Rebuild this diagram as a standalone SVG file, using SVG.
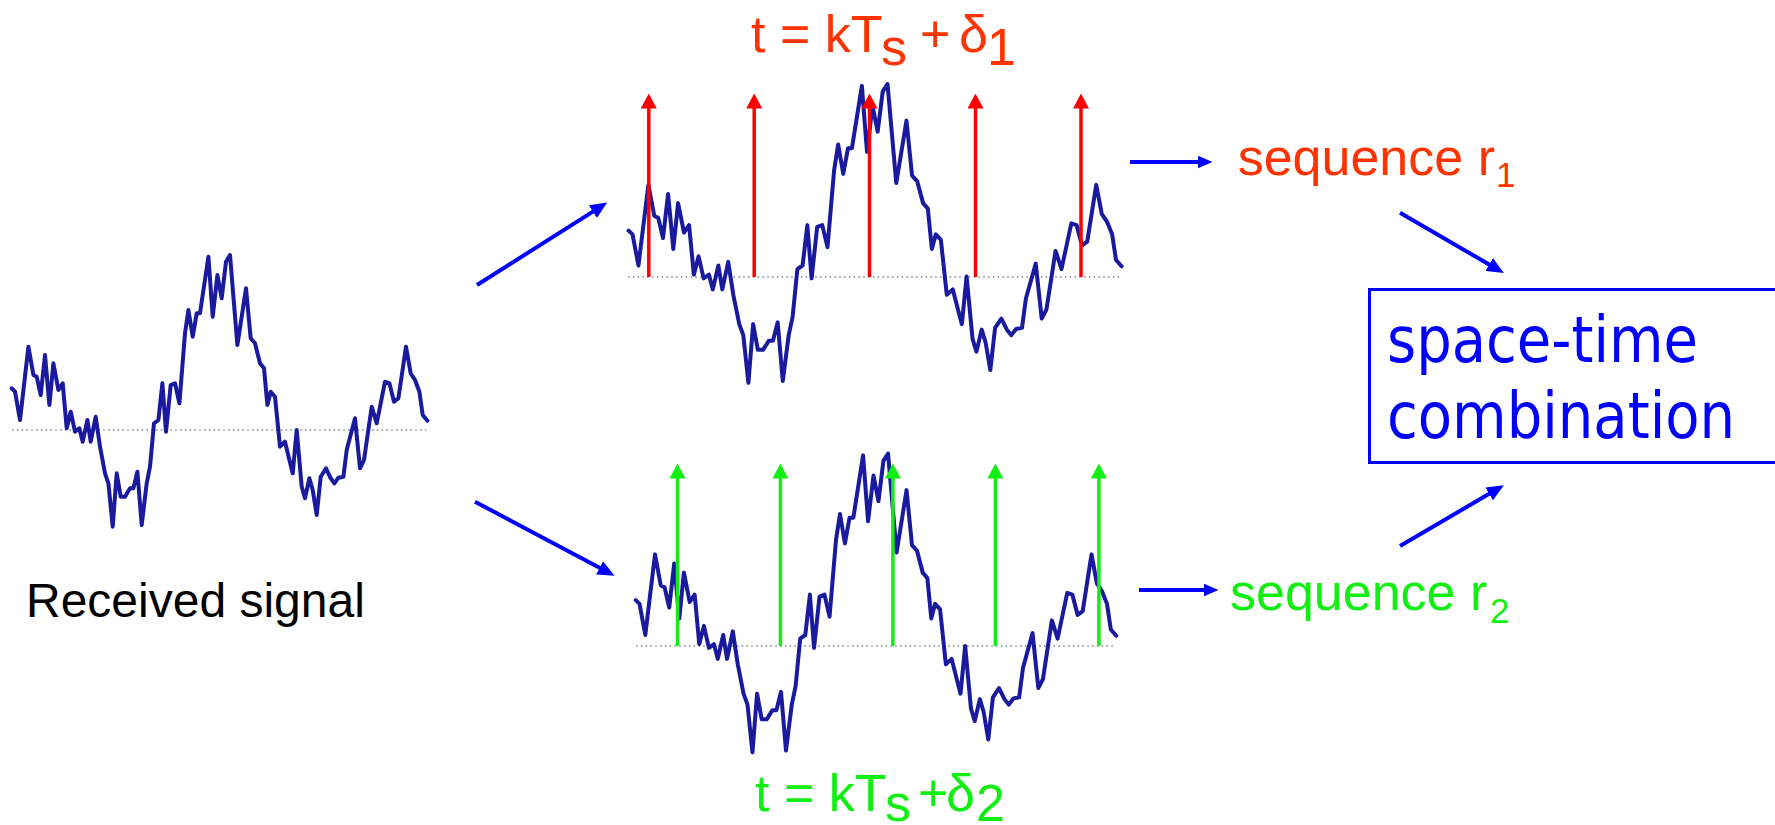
<svg xmlns="http://www.w3.org/2000/svg" xmlns:xlink="http://www.w3.org/1999/xlink" width="1775" height="825" viewBox="0 0 1775 825">
<style>
.wave{fill:none;stroke:#1a1a9e;stroke-width:4;stroke-linejoin:round;stroke-linecap:round}
.base{stroke:#8a8a9a;stroke-width:1.6;stroke-dasharray:1.6 3.2;fill:none}
.red{stroke:#ff0000;stroke-width:3.5;fill:none}
.grn{stroke:#11ee11;stroke-width:3.5;fill:none}
.blu{stroke:#0000ff;stroke-width:4;fill:none}
.lbl{font-family:"Liberation Sans",Arial,sans-serif}
.box{font-family:"DejaVu Sans",Verdana,sans-serif;font-size:64px;fill:#0000ff}
</style>
<defs>
<path id="sig" class="wave" vector-effect="non-scaling-stroke" d="M0,-41.7 L3.3,-38.3 L8.3,-10 L16.7,-83.3 L21.7,-55 L25,-53.3 L29,-35 L33.3,-75 L37.7,-25 L41.7,-66.7 L46.7,-40 L51,-46.7 L55,-1.7 L59,-18.3 L63.3,1.7 L67.7,-1.7 L71,11.7 L75.7,-10 L79,11.7 L84,-13.3 L88.3,16.7 L93.3,43.3 L96.7,53.3 L101,96.7 L105,43.3 L109,66.7 L113.3,66.7 L118.3,58.3 L121.7,58.3 L125.7,41.7 L130,95 L135,53.3 L138.3,36.7 L142.3,-6.7 L146.7,-10 L150.7,-46.7 L154.3,1.7 L159,-45 L163.3,-46.7 L167.7,-26.7 L173.3,-96.7 L176.7,-120 L181,-93.3 L185,-116.7 L188.3,-116.7 L196.7,-173.3 L201,-113.3 L205.7,-155 L210,-131.7 L214.3,-168.3 L218.3,-175 L225.7,-85 L234.3,-141.7 L239,-91.7 L243.3,-86.7 L248.3,-66.7 L252.3,-61.7 L255.7,-25 L259,-38.3 L263.3,-33.3 L268.3,16.7 L273.3,11.7 L277.7,30 L281,43.3 L285,0 L290,56.7 L293.3,68.3 L297.7,48.3 L301,60 L305,85 L309,46.7 L314.3,38.3 L319,48.3 L322.7,53.3 L326.7,47.7 L331.7,46.7 L335,20 L343.3,-11.7 L348.3,38.3 L352.3,30 L360,-23.3 L365,-6.7 L373.3,-48.3 L377.7,-46.7 L382.3,-28.3 L386.7,-31.7 L394.3,-83.3 L399,-56.7 L403.3,-50 L407.7,-38.3 L411,-15 L415.7,-9.3"/>
<marker id="hr" markerUnits="userSpaceOnUse" viewBox="0 0 15 16" markerWidth="15" markerHeight="16" refX="0.5" refY="8" orient="auto"><path d="M0,0 L15,8 L0,16 z" fill="#ff0000"/></marker>
<marker id="hg" markerUnits="userSpaceOnUse" viewBox="0 0 15 16" markerWidth="15" markerHeight="16" refX="0.5" refY="8" orient="auto"><path d="M0,0 L15,8 L0,16 z" fill="#11ee11"/></marker>
<marker id="hb" markerUnits="userSpaceOnUse" viewBox="0 0 17 15" markerWidth="17" markerHeight="15" refX="0.5" refY="7.5" orient="auto"><path d="M0,0 L17,7.5 L0,15 z" fill="#0000ff"/></marker>
<marker id="hbs" markerUnits="userSpaceOnUse" viewBox="0 0 15 13" markerWidth="15" markerHeight="13" refX="0.5" refY="6.5" orient="auto"><path d="M0,0 L15,6.5 L0,13 z" fill="#0000ff"/></marker>
</defs>
<rect width="1775" height="825" fill="#ffffff"/>

<g id="received-signal">
<line class="base" x1="12" y1="430" x2="427" y2="430"/>
<use xlink:href="#sig" transform="translate(11.7,430)"/>
<text class="lbl" x="26" y="617" font-size="48" fill="#000000">Received signal</text>
</g>

<g id="sampled-r1">
<line class="base" x1="628" y1="277" x2="1121" y2="277"/>
<use xlink:href="#sig" transform="translate(628.6,276.5) scale(1.186,1.1)"/>
<line class="red" x1="648.8" y1="277" x2="648.8" y2="108" marker-end="url(#hr)"/>
<line class="red" x1="754.2" y1="277" x2="754.2" y2="108" marker-end="url(#hr)"/>
<line class="red" x1="869.5" y1="277" x2="869.5" y2="108" marker-end="url(#hr)"/>
<line class="red" x1="975.5" y1="277" x2="975.5" y2="108" marker-end="url(#hr)"/>
<line class="red" x1="1081" y1="277" x2="1081" y2="108" marker-end="url(#hr)"/>
<text class="lbl" font-size="52" fill="#ff3300"><tspan x="751" y="52">t = kT</tspan><tspan x="881" y="65">s</tspan><tspan x="920" y="52">+</tspan><tspan x="959" y="52">δ</tspan><tspan x="987" y="65">1</tspan></text>
</g>

<g id="sampled-r2">
<line class="base" x1="636" y1="646" x2="1116" y2="646"/>
<use xlink:href="#sig" transform="translate(635.7,646) scale(1.156,1.1)"/>
<line class="grn" x1="677.5" y1="646" x2="677.5" y2="478" marker-end="url(#hg)"/>
<line class="grn" x1="780.4" y1="646" x2="780.4" y2="478" marker-end="url(#hg)"/>
<line class="grn" x1="892.9" y1="646" x2="892.9" y2="478" marker-end="url(#hg)"/>
<line class="grn" x1="995.4" y1="646" x2="995.4" y2="478" marker-end="url(#hg)"/>
<line class="grn" x1="1098.9" y1="646" x2="1098.9" y2="478" marker-end="url(#hg)"/>
<text class="lbl" font-size="52" fill="#11ee11"><tspan x="755" y="811">t = kT</tspan><tspan x="885" y="821">s</tspan><tspan x="918" y="811">+</tspan><tspan x="946" y="811">δ</tspan><tspan x="976" y="821">2</tspan></text>
</g>

<g id="sequence-r1">
<text class="lbl" fill="#ff3300"><tspan x="1237.7" y="175" font-size="52">sequence r</tspan><tspan x="1496" y="187" font-size="35">1</tspan></text>
</g>

<g id="sequence-r2">
<text class="lbl" fill="#11ee11"><tspan x="1230" y="609.5" font-size="52">sequence r</tspan><tspan x="1490" y="623" font-size="35">2</tspan></text>
</g>

<g id="space-time-combination">
<rect x="1369.5" y="289.5" width="420" height="173" fill="none" stroke="#0000ff" stroke-width="3"/>
<text class="box" x="1387" y="361.7" textLength="311" lengthAdjust="spacingAndGlyphs">space-time</text>
<text class="box" x="1387" y="438.3" textLength="348" lengthAdjust="spacingAndGlyphs">combination</text>
</g>

<g id="connectors">
<line class="blu" x1="477" y1="285" x2="593.3" y2="211.4" marker-end="url(#hb)"/>
<line class="blu" x1="475" y1="501.7" x2="600" y2="568" marker-end="url(#hb)"/>
<line class="blu" x1="1130" y1="162" x2="1198" y2="162" marker-end="url(#hbs)"/>
<line class="blu" x1="1139" y1="590" x2="1204" y2="590" marker-end="url(#hbs)"/>
<line class="blu" x1="1400" y1="212.7" x2="1489.6" y2="264.8" marker-end="url(#hb)"/>
<line class="blu" x1="1400" y1="546" x2="1489.6" y2="493.6" marker-end="url(#hb)"/>
</g>
</svg>
